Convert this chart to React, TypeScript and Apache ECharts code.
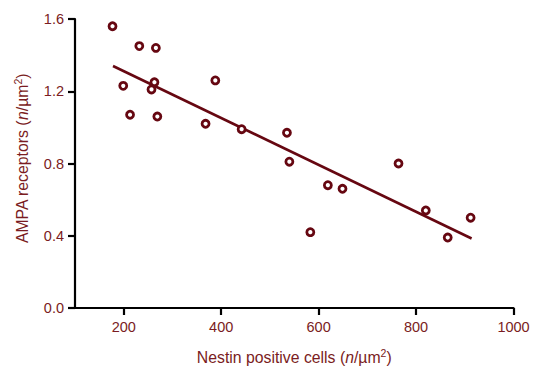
import React, { useEffect, useRef } from "react";
import * as echarts from "echarts";

const nestinCells = [177, 232, 266, 199, 263, 257, 213, 269, 388, 368, 442, 535, 540, 619, 649, 583, 764, 820, 865, 912];
const ampaReceptors = [1.56, 1.45, 1.44, 1.23, 1.25, 1.21, 1.07, 1.06, 1.26, 1.02, 0.99, 0.97, 0.81, 0.68, 0.66, 0.42, 0.80, 0.54, 0.39, 0.50];
const fitX = [178, 914];
const fitY = [1.34, 0.385];
const xTicks = [200, 400, 600, 800, 1000];

const DARK = "#660711";
const LABEL = "#7a1c22";

export default function App() {
  const ref = useRef<HTMLDivElement>(null);
  useEffect(() => {
    if (!ref.current) return;
    const chart = echarts.init(ref.current, null, { renderer: "svg" });
    const font = "Liberation Sans, Arial, sans-serif";
    const rich = {
      t: { fontSize: 15.8, color: LABEL, fontFamily: font },
      i: { fontSize: 15.8, color: LABEL, fontFamily: font, fontStyle: "italic" },
      s: { fontSize: 10.5, color: LABEL, fontFamily: font, padding: [0, 0, 9, 0] },
    };
    chart.setOption({
      animation: false,
      backgroundColor: "#ffffff",
      grid: { left: 75, right: 24.5, top: 19, bottom: 61, containLabel: false },
      xAxis: {
        type: "value",
        min: 100,
        max: 1000,
        name: "{t|Nestin positive cells (}{i|n}{t|/µm}{s|2}{t|)}",
        nameLocation: "middle",
        nameGap: 39,
        nameTextStyle: { rich },
        axisLine: { show: true, onZero: false, lineStyle: { color: "#000", width: 2.2 } },
        axisTick: { show: true, customValues: xTicks, length: 7, lineStyle: { color: "#000", width: 2.2 } },
        axisLabel: {
          customValues: xTicks,
          color: LABEL,
          fontSize: 14.5,
          fontFamily: font,
          margin: 11,
          formatter: (v: number) => String(v),
        },
        splitLine: { show: false },
      },
      yAxis: {
        type: "value",
        min: 0,
        max: 1.6,
        interval: 0.4,
        name: "{t|AMPA receptors (}{i|n}{t|/µm}{s|2}{t|)}",
        nameLocation: "middle",
        nameRotate: 90,
        nameGap: 43,
        nameTextStyle: { rich, padding: [0, 0, 0, 10] },
        axisLine: { show: true, lineStyle: { color: "#000", width: 2.2 } },
        axisTick: { show: true, length: 7, lineStyle: { color: "#000", width: 2.2 } },
        axisLabel: {
          color: LABEL,
          fontSize: 14.5,
          fontFamily: font,
          margin: 11,
          formatter: (v: number) => v.toFixed(1),
        },
        splitLine: { show: false },
      },
      series: [
        {
          type: "scatter",
          data: nestinCells.map((x, i) => [x, ampaReceptors[i]]),
          symbol: "circle",
          symbolSize: 7,
          itemStyle: { color: "#ffffff", borderColor: DARK, borderWidth: 2.8, opacity: 1 },
          z: 3,
        },
        {
          type: "line",
          data: fitX.map((x, i) => [x, fitY[i]]),
          showSymbol: false,
          symbol: "none",
          lineStyle: { color: DARK, width: 2.6 },
          z: 2,
        },
      ],
    });
    return () => chart.dispose();
  }, []);
  return <div ref={ref} style={{ width: 538, height: 370, position: "absolute", left: 0, top: 0 }} />;
}
